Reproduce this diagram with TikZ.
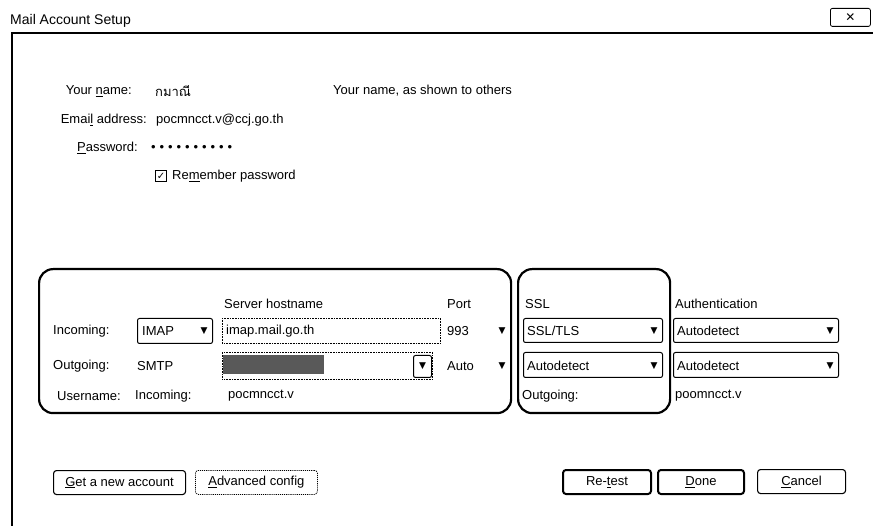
\documentclass[tikz,border=0pt]{standalone}
\usepackage{fontspec}
\setmainfont{Liberation Sans}
\newfontfamily\thaifont[Script=Thai]{Loma}
\newfontfamily\symfont{DejaVu Sans}
\newcommand{\pwdot}{\makebox[8.5pt]{•}}
\begin{document}
\begin{tikzpicture}[x=1pt,y=-1pt,
  txt/.style={font=\fontsize{13}{15}\selectfont, inner sep=0pt, anchor=west},
  rtxt/.style={txt, anchor=east},
  arr/.style={font=\symfont\fontsize{9}{9}\selectfont, inner sep=0pt},
  combo/.style={draw, line width=1pt, rounded corners=2pt, anchor=north west, inner sep=0pt},
  field/.style={draw, densely dotted, line width=0.6pt, anchor=north west, inner sep=0pt},
  grp/.style={draw, line width=2.2pt, rounded corners=14pt, anchor=north west, inner sep=0pt},
  btn/.style={draw, line width=1.1pt, rounded corners=3pt, anchor=north west, inner sep=0pt, minimum height=24pt},
  btnthick/.style={btn, line width=2pt},
  btndot/.style={btn, densely dotted, line width=0.8pt},
]
\useasboundingbox (0,0) rectangle (873,526);
\fill[white] (0,0) rectangle (873,526);

% title and frame
\node[txt, font=\fontsize{14}{16}\selectfont] (title) at (10,21) {Mail Account Setup};
\node[draw, line width=0.8pt, rounded corners=2pt, anchor=north west, minimum width=40pt, minimum height=18pt, inner sep=0pt] (close) at (830,8) {};
\node[font=\symfont\fontsize{12}{12}\selectfont, inner sep=0pt] (closex) at (close.center) {✕};
\coordinate (ftl) at (12,33);
\coordinate (ftr) at (873,33);
\coordinate (fbl) at (12,526);
\draw[line width=1.2pt] (ftr) -- (ftl) -- (fbl);

% identity
\node[rtxt] (lname) at (132,91) {Your \underline{n}ame:};
\node[txt] (vname) at (155,91) {\thaifont กมาณี};
\node[txt] (hname) at (333,91) {Your name, as shown to others};
\node[rtxt] (lmail) at (147,120) {Emai\underline{l} address:};
\node[txt] (vmail) at (156,120) {pocmncct.v@ccj.go.th};
\node[rtxt] (lpass) at (138,148) {\underline{P}assword:};
\node[txt] (vpass) at (149,148) {\pwdot\pwdot\pwdot\pwdot\pwdot\pwdot\pwdot\pwdot\pwdot\pwdot};
\node[draw, line width=0.9pt, anchor=north west, minimum width=11pt, minimum height=11pt, inner sep=0pt] (chk) at (155,170) {};
\node[font=\symfont\fontsize{10}{10}\selectfont, inner sep=0pt] (chkmark) at (chk.center) {✓};
\node[txt] (lremember) at (172,176) {Re\underline{m}ember password};

% server group boxes
\node[grp, minimum width=472pt, minimum height=144pt] (g1) at (38,268) {};
\node[grp, minimum width=152pt, minimum height=144pt] (g2) at (517,268) {};

% headings
\node[txt] (hhost) at (224,304) {Server hostname};
\node[txt] (hport) at (447,304) {Port};
\node[txt] (hssl) at (525,304) {SSL};
\node[txt] (hauth) at (675,304) {Authentication};

% incoming row
\node[txt] (lin) at (53,331) {Incoming:};
\node[combo, minimum width=75pt, minimum height=25pt] (cimap) at (137,318) {};
\node[txt] (vimap) at (142,331) {IMAP};
\node[arr] (aimap) at (204,331) {▼};
\node[field, minimum width=218pt, minimum height=25pt] (fin) at (222,318) {};
\node[txt] (vinhost) at (226,331) {imap.mail.go.th};
\node[txt] (vinport) at (447,331) {993};
\node[arr] (ainport) at (502,331) {▼};
\node[combo, minimum width=139pt, minimum height=24pt] (cinssl) at (523,318) {};
\node[txt] (vinssl) at (527,331) {SSL/TLS};
\node[arr] (ainssl) at (654,331) {▼};
\node[combo, minimum width=165pt, minimum height=24pt] (cinauth) at (673,318) {};
\node[txt] (vinauth) at (677,331) {Autodetect};
\node[arr] (ainauth) at (830,331) {▼};

% outgoing row
\node[txt] (lout) at (53,366) {Outgoing:};
\node[txt] (vsmtp) at (137,366) {SMTP};
\node[field, minimum width=210pt, minimum height=27pt] (fout) at (222,352) {};
\node[fill=black!65, anchor=north west, minimum width=101pt, minimum height=19pt, inner sep=0pt] (sel) at (223,355) {};
\node[combo, minimum width=18pt, minimum height=22pt] (bout) at (413,355) {};
\node[arr] (aout) at (bout.center) {▼};
\node[txt] (voutport) at (447,366) {Auto};
\node[arr] (aoutport) at (502,366) {▼};
\node[combo, minimum width=139pt, minimum height=25pt] (coutssl) at (523,352) {};
\node[txt] (voutssl) at (527,366) {Autodetect};
\node[arr] (aoutssl) at (654,366) {▼};
\node[combo, minimum width=165pt, minimum height=25pt] (coutauth) at (673,352) {};
\node[txt] (voutauth) at (677,366) {Autodetect};
\node[arr] (aoutauth) at (830,366) {▼};

% username row
\node[txt] (luser) at (57,396) {Username:};
\node[txt] (luin) at (135,396) {Incoming:};
\node[txt] (vuin) at (228,396) {pocmncct.v};
\node[txt] (luout) at (522,396) {Outgoing:};
\node[txt] (vuout) at (675,396) {poomncct.v};

% buttons
\node[btn, minimum width=132pt] (bget) at (53,470) {};
\node[txt] (tget) at (bget.center) [anchor=center] {\underline{G}et a new account};
\node[btndot, minimum width=122pt] (badv) at (195,470) {};
\node[txt] (tadv) at (badv.center) [anchor=center] {\underline{A}dvanced config};
\node[btnthick, minimum width=88pt] (bretest) at (562,469) {};
\node[txt] (tretest) at (bretest.center) [anchor=center] {Re-\underline{t}est};
\node[btnthick, minimum width=86pt] (bdone) at (657,469) {};
\node[txt] (tdone) at (bdone.center) [anchor=center] {\underline{D}one};
\node[btn, minimum width=88pt] (bcancel) at (757,469) {};
\node[txt] (tcancel) at (bcancel.center) [anchor=center] {\underline{C}ancel};
\end{tikzpicture}
\end{document}
